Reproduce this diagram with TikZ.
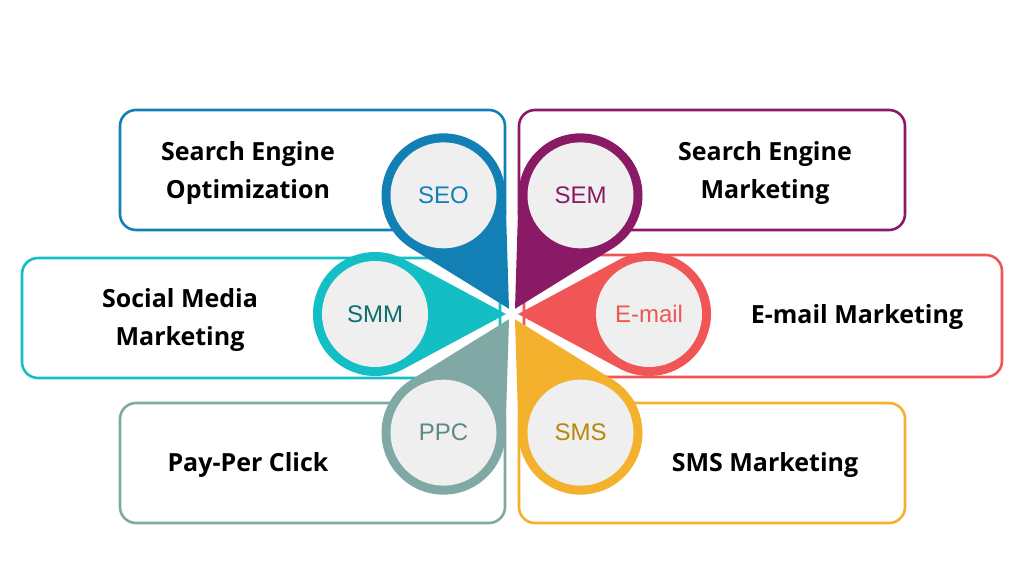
\documentclass[tikz,border=0pt]{standalone}
\usetikzlibrary{calc}
\usepackage{fontspec}
\setmainfont{Open Sans}
\newfontfamily\lblfont{Liberation Sans}
\definecolor{cseo}{HTML}{1380B5}
\definecolor{csem}{HTML}{8B1A66}
\definecolor{cmail}{HTML}{F05656}
\definecolor{csms}{HTML}{F4B12E}
\definecolor{cppc}{HTML}{80A8A4}
\definecolor{csmm}{HTML}{13BEC4}
\definecolor{tsms}{HTML}{B8860B}
\definecolor{tppc}{HTML}{5C8A87}
\definecolor{tsmm}{HTML}{0E6E6E}
\definecolor{igrey}{HTML}{EFEFEF}
\tikzset{
  boxst/.style={draw=#1, line width=2.6pt, rounded corners=16pt},
  title/.style={font=\bfseries\fontsize{25}{38}\selectfont, align=center, text=black},
  lbl/.style={circle, fill=igrey, minimum size=106pt, inner sep=0pt, font=\lblfont\fontsize{24}{26}\selectfont, text=#1}
}
\newcommand{\petal}[2]{% angle, colour
  \fill[#2, rotate around={#1:(512,262)}] (518,262) -- ({512+137+62*cos(117.5)},{262+62*sin(117.5)})
    arc[start angle=117.5, end angle=-117.5, radius=62] -- cycle;}
\begin{document}
\begin{tikzpicture}[x=1pt,y=1pt]
\useasboundingbox (0,0) rectangle (1024,576);
\fill[white] (0,0) rectangle (1024,576);
\coordinate (c) at (512,262);
% boxes
\draw[boxst=cseo] (120,466) rectangle (505,346);
\draw[boxst=csem] (519,466) rectangle (905,346);
\draw[boxst=csmm] (22,318) rectangle (500,198);
\draw[boxst=cmail] (524,321) rectangle (1002,199);
\draw[boxst=cppc] (120,173) rectangle (505,53);
\draw[boxst=csms] (519,173) rectangle (905,53);
% petals
\petal{120}{cseo}
\petal{60}{csem}
\petal{180}{csmm}
\petal{0}{cmail}
\petal{240}{cppc}
\petal{300}{csms}
% inner circles with labels
\node[lbl=cseo] (seo) at ($(c)+(120:137)$) {SEO};
\node[lbl=csem] (sem) at ($(c)+(60:137)$) {SEM};
\node[lbl=tsmm] (smm) at ($(c)+(180:137)$) {SMM};
\node[lbl=cmail] (mail) at ($(c)+(0:137)$) {E-mail};
\node[lbl=tppc] (ppc) at ($(c)+(240:137)$) {PPC};
\node[lbl=tsms] (sms) at ($(c)+(300:137)$) {SMS};
% titles
\node[title] (t1) at (248,403) {Search Engine\\Optimization};
\node[title] (t2) at (765,403) {Search Engine\\Marketing};
\node[title] (t3) at (180,256) {Social Media\\Marketing};
\node[title] (t4) at (857,259) {E-mail Marketing};
\node[title] (t5) at (248,111) {Pay-Per Click};
\node[title] (t6) at (765,111) {SMS Marketing};
\end{tikzpicture}
\end{document}
